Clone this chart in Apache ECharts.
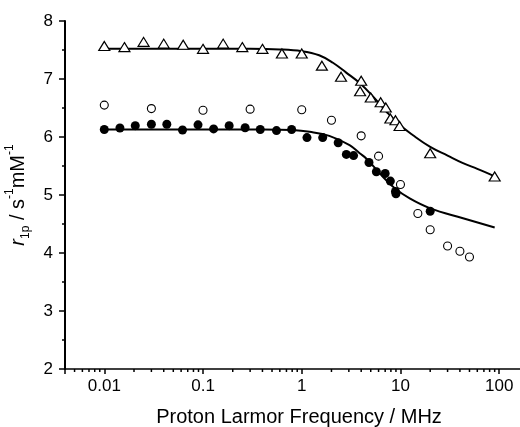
<!DOCTYPE html>
<html>
<head>
<meta charset="utf-8">
<script src="https://cdn.jsdelivr.net/npm/echarts@6/dist/echarts.min.js"></script>
<style>
  html, body { margin: 0; padding: 0; background: #fff; }
  #chart { width: 520px; height: 427px; }
</style>
</head>
<body>
<div id="chart"></div>
<script>
// open triangles
var triFreq = [0.01, 0.016, 0.025, 0.04, 0.063, 0.1, 0.16, 0.25, 0.4, 0.63, 1.0, 1.6, 2.5, 3.9, 4.0, 5.0, 6.3, 7.1, 7.9, 8.9, 9.8, 20, 90];
var triVal  = [7.57, 7.55, 7.64, 7.61, 7.59, 7.52, 7.61, 7.55, 7.52, 7.44, 7.44, 7.23, 7.04, 6.79, 6.97, 6.68, 6.60, 6.51, 6.32, 6.29, 6.19, 5.72, 5.32];

// open circles
var openFreq = [0.01, 0.03, 0.1, 0.3, 1.0, 2.0, 4.0, 6.0, 10, 15, 20, 30, 40, 50];
var openVal  = [6.55, 6.49, 6.46, 6.48, 6.47, 6.29, 6.02, 5.67, 5.18, 4.68, 4.40, 4.12, 4.03, 3.93];

// filled circles
var fillFreq = [0.01, 0.0144, 0.0206, 0.03, 0.043, 0.062, 0.089, 0.128, 0.184, 0.267, 0.38, 0.555, 0.79, 1.13, 1.63, 2.34, 2.83, 3.35, 4.8, 5.7, 7.0, 7.9, 8.9, 9.0, 20];
var fillVal  = [6.13, 6.155, 6.195, 6.22, 6.22, 6.12, 6.21, 6.14, 6.195, 6.16, 6.13, 6.11, 6.13, 5.99, 5.99, 5.90, 5.70, 5.68, 5.56, 5.40, 5.37, 5.24, 5.06, 5.02, 4.72];

// fitted curves
var fitTriFreq = [0.01, 0.1, 0.3, 0.6, 1.0, 1.5, 2.07, 2.82, 3.86, 5.26, 7.19, 9.8, 13.4, 20, 30, 43, 60, 90];
var fitTriVal  = [7.52, 7.52, 7.52, 7.51, 7.48, 7.41, 7.28, 7.11, 6.93, 6.70, 6.44, 6.21, 6.03, 5.83, 5.68, 5.55, 5.45, 5.32];
var fitFillFreq = [0.01, 0.1, 0.4, 0.8, 1.2, 1.9, 3.05, 3.86, 4.5, 6.6, 8.7, 12.4, 20, 43, 90];
var fitFillVal  = [6.13, 6.13, 6.13, 6.12, 6.09, 6.02, 5.86, 5.72, 5.63, 5.32, 5.12, 4.94, 4.77, 4.60, 4.44];

// minor tick positions on the log axis
var minorTicks = [0.005, 0.006, 0.007, 0.008, 0.009,
  0.02, 0.03, 0.04, 0.05, 0.06, 0.07, 0.08, 0.09,
  0.2, 0.3, 0.4, 0.5, 0.6, 0.7, 0.8, 0.9,
  2, 3, 4, 5, 6, 7, 8, 9,
  20, 30, 40, 50, 60, 70, 80, 90];

function pairs(xs, ys) {
  var out = [];
  for (var i = 0; i < xs.length; i++) out.push([xs[i], ys[i]]);
  return out;
}

var font = 'Liberation Sans, Arial, sans-serif';
var myChart = echarts.init(document.getElementById('chart'));
var option = {
  animation: false,
  grid: { left: 65, right: -13, top: 21, bottom: 58, containLabel: false, outerBoundsMode: 'none' },
  xAxis: {
    type: 'log',
    min: 0.004,
    max: 220,
    name: 'Proton Larmor Frequency / MHz',
    nameLocation: 'middle',
    nameGap: 38,
    nameTextStyle: { fontFamily: font, fontSize: 20, color: '#000' },
    axisLine: { lineStyle: { color: '#000', width: 1.5 } },
    axisTick: { show: true, inside: false, length: 5, lineStyle: { color: '#000', width: 1.5 } },
    axisLabel: {
      fontFamily: font, fontSize: 17, color: '#000', margin: 9,
      formatter: function (v) {
        var l = Math.log(v) / Math.LN10;
        if (Math.abs(l - Math.round(l)) > 1e-6) return '';
        return String(Math.round(Math.pow(10, Math.round(l)) * 1000) / 1000);
      }
    },
    splitLine: { show: false }
  },
  yAxis: {
    type: 'value',
    min: 2,
    max: 8,
    interval: 1,
    name: '{i|r}{sub|1p}{n| / s}{sup|-1}{n|mM}{sup|-1}',
    nameLocation: 'middle',
    nameGap: 33,
    nameTextStyle: {
      fontFamily: font, fontSize: 20, color: '#000',
      rich: {
        i: { fontFamily: font, fontSize: 20, fontStyle: 'italic', color: '#000', lineHeight: 28 },
        n: { fontFamily: font, fontSize: 20, color: '#000', lineHeight: 28 },
        sub: { fontFamily: font, fontSize: 12, color: '#000', lineHeight: 12, verticalAlign: 'bottom' },
        sup: { fontFamily: font, fontSize: 12, color: '#000', lineHeight: 12, verticalAlign: 'top' }
      }
    },
    axisLine: { show: true, lineStyle: { color: '#000', width: 2 } },
    axisTick: { show: true, inside: false, length: 6, lineStyle: { color: '#000', width: 1.5 } },
    minorTick: { show: true, splitNumber: 2, length: 3, lineStyle: { color: '#000', width: 1.5 } },
    axisLabel: { fontFamily: font, fontSize: 17, color: '#000', margin: 12 },
    splitLine: { show: false }
  },
  series: [
    {
      type: 'custom',
      silent: true,
      clip: false,
      data: minorTicks.map(function (f) { return [f, 2]; }),
      renderItem: function (params, api) {
        var p = api.coord([api.value(0), api.value(1)]);
        return {
          type: 'line',
          shape: { x1: p[0], y1: p[1], x2: p[0], y2: p[1] + 3 },
          style: { stroke: '#000', lineWidth: 1.5 }
        };
      }
    },
    {
      type: 'line', smooth: 0.4, showSymbol: false, silent: true,
      data: pairs(fitTriFreq, fitTriVal),
      lineStyle: { color: '#000', width: 2 }
    },
    {
      type: 'line', smooth: 0.4, showSymbol: false, silent: true,
      data: pairs(fitFillFreq, fitFillVal),
      lineStyle: { color: '#000', width: 2 }
    },
    {
      type: 'scatter',
      symbol: 'triangle',
      symbolSize: [11, 9],
      data: pairs(triFreq, triVal),
      itemStyle: { color: '#fff', borderColor: '#000', borderWidth: 1.2, opacity: 1 },
      z: 5
    },
    {
      type: 'scatter',
      symbol: 'circle',
      symbolSize: 8,
      data: pairs(openFreq, openVal),
      itemStyle: { color: '#fff', borderColor: '#000', borderWidth: 1.1, opacity: 1 },
      z: 5
    },
    {
      type: 'scatter',
      symbol: 'circle',
      symbolSize: 9,
      data: pairs(fillFreq, fillVal),
      itemStyle: { color: '#000', opacity: 1 },
      z: 6
    }
  ]
};
myChart.setOption(option);
</script>
</body>
</html>
